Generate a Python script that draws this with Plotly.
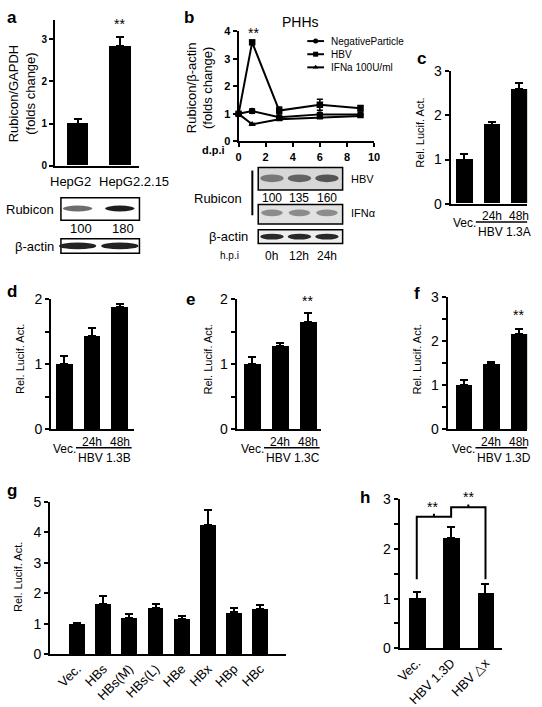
import plotly.graph_objects as go

W, H = 542, 707
FONT = "Liberation Sans, Arial, sans-serif"

# ---------------- data ----------------
a_cats = ["HepG2", "HepG2.2.15"]
a_vals = [1.0, 2.83]
a_err = [0.1, 0.23]
a_blot_nums = ["100", "180"]
a_rubicon_int = [100, 180]

b_days = [0, 1, 3, 6, 9]
b_series = ["NegativeParticle", "HBV", "IFNa 100U/ml"]
b_neg = [1.0, 1.1, 0.88, 0.98, 0.98]
b_neg_err = [0, 0.08, 0.05, 0.05, 0.05]
b_hbv = [1.0, 3.6, 1.12, 1.33, 1.2]
b_hbv_err = [0, 0.05, 0.13, 0.2, 0.1]
b_ifn = [1.0, 0.62, 0.8, 0.87, 0.92]
b_ifn_err = [0, 0.03, 0.04, 0.05, 0.05]
b_blot_nums = ["100", "135", "160"]
b_rubicon_int = [100, 135, 160]
b_hpi = ["0h", "12h", "24h"]

time_labels = ["Vec.", "24h", "48h"]
c_vals = [1.0, 1.79, 2.6]
c_err = [0.13, 0.06, 0.13]
d_vals = [1.0, 1.43, 1.87]
d_err = [0.12, 0.13, 0.06]
e_vals = [1.0, 1.28, 1.64]
e_err = [0.11, 0.04, 0.14]
f_vals = [1.0, 1.48, 2.17]
f_err = [0.12, 0.04, 0.1]

g_cats = ["Vec.", "HBs", "HBs(M)", "HBs(L)", "HBe", "HBx", "HBp", "HBc"]
g_vals = [1.0, 1.64, 1.18, 1.53, 1.15, 4.23, 1.37, 1.48]
g_err = [0.03, 0.27, 0.13, 0.13, 0.1, 0.51, 0.16, 0.15]

h_cats = ["Vec.", "HBV 1.3D", "HBV △x"]
h_vals = [1.0, 2.22, 1.1]
h_err = [0.14, 0.23, 0.19]
h_bracket_low = 1.39
h_bracket_levels = [2.65, 2.84]

fig = go.Figure()


def dx(l, r):
    return [l / W, r / W]


def dy(top, bottom):
    return [1 - bottom / H, 1 - top / H]


def add_axes(i, xl, xr, xrange, y0, ppu, ymax, tickvals, tfont, minor=False):
    top = y0 - ymax * ppu
    xa = dict(domain=dx(xl, xr), range=xrange, showline=True, linecolor="black",
              linewidth=2, showgrid=False, zeroline=False, anchor="y%d" % i,
              showticklabels=False, ticks="")
    ya = dict(domain=dy(top, y0), range=[0, ymax], showline=True,
              linecolor="black", linewidth=2, showgrid=False, zeroline=False,
              anchor="x%d" % i, ticks="outside", ticklen=4, tickwidth=2,
              tickcolor="black", tickvals=tickvals, tickfont=tfont)
    if minor:
        ya["minor"] = dict(dtick=0.5, ticks="outside", ticklen=4, tickwidth=2,
                           tickcolor="black", showgrid=False)
    fig.update_layout(**{"xaxis%d" % i: xa, "yaxis%d" % i: ya})


bold10 = dict(family=FONT, size=10, color="black", weight="bold")
bold11 = dict(family=FONT, size=11, color="black", weight="bold")
norm14 = dict(family=FONT, size=14, color="black")

add_axes(1, 52, 138, [-0.535, 1.465], 162, 43.3, 3.45, [0, 1, 2, 3], bold10)
add_axes(2, 239, 377, [0, 10], 137, 28.25, 4, [0, 1, 2, 3, 4], bold11)
add_axes(3, 455, 533, [-0.5, 2.29], 201, 45.3, 3, [0, 1, 2, 3], norm14)
add_axes(4, 48, 132, [-0.48, 2.5], 433, 67, 2, [0, 1, 2], norm14, minor=True)
add_axes(5, 237, 323, [-0.57, 2.48], 433, 67, 2, [0, 1, 2], norm14, minor=True)
add_axes(6, 452, 533, [-0.59, 2.3], 433, 45.3, 3, [0, 1, 2, 3], norm14, minor=True)
add_axes(7, 47, 287, [-1.03, 7.97], 664, 31.3, 5, [0, 1, 2, 3, 4, 5], norm14)
add_axes(8, 403, 507, [-0.5, 2.47], 658, 51, 3, [0, 1, 2, 3], norm14, minor=True)

# panel b x ticks
fig.update_layout(xaxis2=dict(ticks="outside", ticklen=4, tickwidth=2,
                              tickcolor="black", showticklabels=True,
                              tickvals=[0, 2, 4, 6, 8, 10], tickfont=bold11))
# panel g / h rotated category labels
fig.update_layout(
    xaxis7=dict(showticklabels=True, tickvals=list(range(len(g_cats))),
                ticktext=g_cats, tickangle=-45,
                tickfont=dict(family=FONT, size=13, color="black")),
    xaxis8=dict(showticklabels=True, tickvals=list(range(len(h_cats))),
                ticktext=h_cats, tickangle=-45,
                tickfont=dict(family=FONT, size=13, color="black")),
)

# overlay pixel axis
fig.update_layout(
    xaxis9=dict(domain=[0, 1], range=[0, W], visible=False, anchor="y9"),
    yaxis9=dict(domain=[0, 1], range=[H, 0], visible=False, anchor="x9"),
)


def bars(i, vals, err, width):
    fig.add_trace(go.Bar(
        x=list(range(len(vals))), y=vals, width=width,
        marker=dict(color="black", line=dict(width=0)),
        error_y=dict(type="data", array=err, arrayminus=[0] * len(err),
                     symmetric=False, color="black", thickness=2, width=4),
        xaxis="x%d" % i, yaxis="y%d" % i, showlegend=False, cliponaxis=False))


bars(1, a_vals, a_err, 0.51)
bars(3, c_vals, c_err, 0.6)
bars(4, d_vals, d_err, 0.6)
bars(5, e_vals, e_err, 0.62)
bars(6, f_vals, f_err, 0.6)
bars(7, g_vals, g_err, 0.6)
bars(8, h_vals, h_err, 0.49)

# panel b lines
symbols = ["circle", "square", "triangle-up"]
for name, vals, err, sym in zip(b_series, [b_neg, b_hbv, b_ifn],
                                [b_neg_err, b_hbv_err, b_ifn_err], symbols):
    fig.add_trace(go.Scatter(
        x=b_days, y=vals, mode="lines+markers", name=name,
        line=dict(color="black", width=2),
        marker=dict(symbol=sym, size=6.5, color="black"),
        error_y=dict(type="data", array=err, color="black", thickness=1.5, width=3),
        xaxis="x2", yaxis="y2", showlegend=False, cliponaxis=False))

# manual legend (pixel overlay)
for k, (name, sym) in enumerate(zip(b_series, symbols)):
    yy = 34 + k * 13.5
    fig.add_trace(go.Scatter(x=[309, 326], y=[yy, yy], mode="lines",
                             line=dict(color="black", width=2),
                             xaxis="x9", yaxis="y9", showlegend=False,
                             hoverinfo="skip"))
    fig.add_trace(go.Scatter(x=[317.5], y=[yy], mode="markers",
                             marker=dict(symbol=sym, size=5, color="black"),
                             xaxis="x9", yaxis="y9", showlegend=False,
                             hoverinfo="skip"))

# panel h significance brackets
fig.add_trace(go.Scatter(
    x=[0, 0, 1, 1, 2, 2], y=[h_bracket_low, h_bracket_levels[0], h_bracket_levels[0],
                             h_bracket_levels[1], h_bracket_levels[1], h_bracket_low],
    mode="lines", line=dict(color="black", width=2), xaxis="x8", yaxis="y8",
    showlegend=False, cliponaxis=False))
for xm, lv in zip([0.5, 1.5], h_bracket_levels):
    fig.add_trace(go.Scatter(x=[xm, xm], y=[lv, lv + 0.06], mode="lines",
                             line=dict(color="black", width=2), xaxis="x8",
                             yaxis="y8", showlegend=False, cliponaxis=False))

annotations = []
shapes = []


def T(text, x, y, size=12, bold=False, xanchor="center", angle=0, xref="x9",
      yref="y9"):
    annotations.append(dict(
        text="<b>%s</b>" % text if bold else text, x=x, y=y, xref=xref, yref=yref,
        showarrow=False, xanchor=xanchor, yanchor="middle", textangle=angle,
        font=dict(family=FONT, size=size, color="black")))


# panel letters
for lab, x, y in [("a", 8, 10), ("b", 188, 10), ("c", 425, 52), ("d", 8, 291),
                  ("e", 190, 300), ("f", 421, 293), ("g", 8, 496), ("h", 368, 503)]:
    T(lab, x, y, size=17, bold=True)

# y titles
T("Rubicon/GAPDH<br>(folds change)", 18, 88, size=13, angle=-90)
T("Rubicon/β-actin<br>(folds change)", 199, 82, size=13, angle=-90)
T("Rel. Lucif. Act.", 423, 128, size=11, angle=-90)
T("Rel. Lucif. Act.", 17, 361, size=11, angle=-90)
T("Rel. Lucif. Act.", 208, 361, size=11, angle=-90)
T("Rel. Lucif. Act.", 421, 361, size=11, angle=-90)
T("Rel. Lucif. Act.", 15, 585, size=11, angle=-90)

# panel a x labels (wider than the bar spacing, as in the original)
for c, xc in zip(a_cats, [68, 132]):
    T(c, xc, 178, size=13)
# stars
T("**", 1, 3.35, size=14, xref="x1", yref="y1")
T("**", 1.1, 3.95, size=14, xref="x2", yref="y2")
T("**", 2, 3.18, size=14, xref="x3", yref="y3")
T("**", 2, 2.03, size=14, xref="x4", yref="y4")
T("**", 2, 1.97, size=14, xref="x5", yref="y5")
T("**", 2, 2.6, size=14, xref="x6", yref="y6")
T("**", 5, 5.1, size=14, xref="x7", yref="y7")
T("**", 437, 513, size=14)
T("**", 473, 503, size=14)

# panel b text
T("PHHs", 302, 14, size=14)
T("d.p.i", 213, 146, size=11, bold=True)
for k, name in enumerate(b_series):
    T(name, 331, 34 + k * 13.5, size=10, xanchor="left")

# c-f time labels
for i, base, series in [(3, 201, "HBV 1.3A"), (4, 433, "HBV 1.3B"),
                        (5, 433, "HBV 1.3C"), (6, 433, "HBV 1.3D")]:
    T(time_labels[0], 0, base + 20, size=12, xref="x%d" % i)
    T(time_labels[1], 1, base + 13, size=12, xref="x%d" % i)
    T(time_labels[2], 2, base + 13, size=12, xref="x%d" % i)
    T(series, 1.45, base + 29, size=12, xref="x%d" % i)
    shapes.append(dict(type="line", xref="x%d" % i, yref="y9", x0=0.42, x1=2.43,
                       y0=base + 19, y1=base + 19,
                       line=dict(color="black", width=1.5)))


# ---- western blots (pixel overlay) ----
def box(x0, x1, y0, y1, fill="white"):
    shapes.append(dict(type="rect", xref="x9", yref="y9", x0=x0, x1=x1, y0=y0,
                       y1=y1, line=dict(color="black", width=1.5), fillcolor=fill,
                       layer="above"))


def band(xc, w, y0, y1, color):
    shapes.append(dict(type="circle", xref="x9", yref="y9", x0=xc - w / 2,
                       x1=xc + w / 2, y0=y0, y1=y1, line=dict(width=0),
                       fillcolor=color, layer="above"))


def gray(intensity, lo=100, hi=180, light=110, dark=30):
    t = (intensity - lo) / (hi - lo) if hi > lo else 1
    v = int(light + (dark - light) * t)
    return "rgb(%d,%d,%d)" % (v, v, v)


# panel a blot
a_lanes = [75, 118]
box(58, 138, 195, 218)
for xc, inten in zip(a_lanes, a_rubicon_int):
    band(xc, 30, 203, 209, gray(inten))
for xc, n in zip(a_lanes, a_blot_nums):
    T(n, xc + 3, 227, size=13)
box(58, 138, 237, 252)
for xc in a_lanes:
    band(xc, 38, 241, 248, "rgb(35,35,35)")
T("Rubicon", 53, 207, size=13, xanchor="right")
T("β-actin", 53, 245, size=13, xanchor="right")

# panel b blot
b_lanes = [273, 301, 329]
box(259, 345, 164, 187, fill="rgb(215,215,215)")
for xc, inten in zip(b_lanes, b_rubicon_int):
    band(xc, 24, 171, 179, gray(inten, 100, 160, 120, 85))
box(259, 345, 202, 222, fill="rgb(225,225,225)")
for xc in b_lanes:
    band(xc, 22, 207, 214, "rgb(140,140,140)")
box(259, 345, 228, 242, fill="rgb(238,238,238)")
for xc in b_lanes:
    band(xc, 24, 232, 238, "rgb(40,40,40)")
for xc, n in zip(b_lanes, b_blot_nums):
    T(n, xc, 195, size=12)
T("HBV", 351, 176, size=11, xanchor="left")
T("IFNα", 351, 211, size=11, xanchor="left")
T("Rubicon", 218, 196, size=13)
shapes.append(dict(type="line", xref="x9", yref="y9", x0=253, x1=253, y0=167,
                   y1=213, line=dict(color="black", width=2)))
T("β-actin", 251, 235, size=13, xanchor="right")
T("h.p.i", 230, 254, size=10)
for xc, lab in zip(b_lanes, b_hpi):
    T(lab, xc, 255, size=12)

fig.update_layout(
    width=W, height=H, margin=dict(l=0, r=0, t=0, b=0), autosize=False,
    paper_bgcolor="white", plot_bgcolor="rgba(0,0,0,0)",
    font=dict(family=FONT, color="black"), showlegend=False,
    annotations=annotations, shapes=shapes, bargap=0,
)

fig.write_html("out.html", config={"displayModeBar": False},
               post_script="document.body.style.margin='0';")
